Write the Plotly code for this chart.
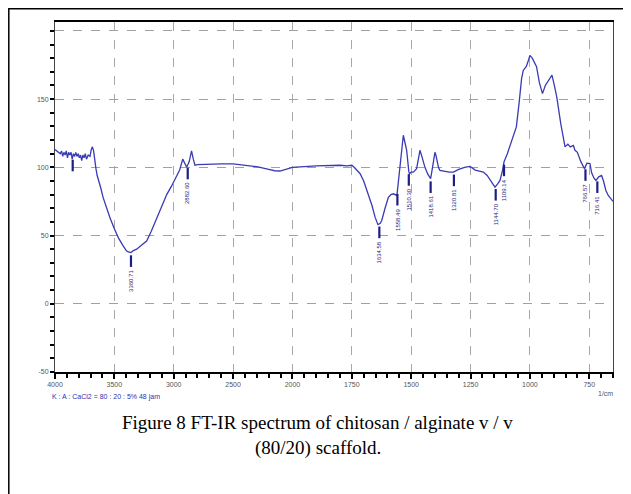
import numpy as np
import plotly.graph_objects as go

# ---- spectrum (wavenumber 1/cm, transmittance %) ----
wavenumber = [4000, 3985, 3970, 3955, 3945, 3935, 3925, 3915, 3905, 3895, 3885, 3875, 3865, 3855,
              3845, 3835, 3825, 3815, 3805, 3795, 3785, 3775, 3765, 3755, 3745, 3735, 3720, 3705,
              3695, 3685, 3675, 3665, 3655, 3645, 3630, 3615, 3595, 3565, 3537, 3500, 3467, 3430,
              3400, 3383, 3360, 3340, 3312, 3270, 3228, 3190, 3143, 3100, 3059, 3020, 2975, 2950,
              2924, 2905, 2891, 2870, 2850, 2835, 2821, 2800, 2700, 2600, 2500, 2400, 2300, 2200,
              2150, 2105, 2050, 2000, 1900, 1850, 1800, 1770, 1750, 1740, 1730, 1715, 1700, 1681,
              1665, 1652, 1640, 1630, 1624, 1610, 1596, 1585, 1575, 1560, 1550, 1540, 1533, 1526,
              1519, 1510, 1507, 1500, 1491, 1477, 1470, 1463, 1455, 1442, 1430, 1418, 1410, 1400,
              1396, 1385, 1379, 1360, 1340, 1322, 1300, 1275, 1252, 1230, 1210, 1196, 1180, 1165,
              1147, 1135, 1126, 1115, 1109, 1095, 1080, 1057, 1045, 1035, 1028, 1015, 1005, 1000,
              990, 972, 960, 947, 935, 920, 907, 897, 887, 870, 852, 840, 830, 817, 810, 800, 785,
              770, 760, 747, 740, 730, 722, 710, 698, 690, 680, 670, 650]
transmittance = [113, 112, 111.5, 110, 112, 108, 111, 109, 112, 107, 111, 109, 111, 106,
                 110, 108, 111, 108, 110, 107, 109, 105, 109, 107, 110, 106, 109, 108,
                 113, 115, 112, 104, 99, 94, 90, 85, 78, 70, 63, 55, 48.5, 43,
                 39, 38, 37.5, 39, 40, 43, 46, 53, 63, 72, 80, 86, 93, 98,
                 106, 102, 100, 104, 112, 106, 101.5, 102, 102.5, 102.5, 102.5, 101.5, 100.5, 98.5,
                 97.5, 97.3, 98.5, 100, 101, 101.5, 101.5, 101, 101.5, 100, 98, 95.3, 90, 80.6,
                 72, 63.5, 58, 59, 61, 70, 78, 80, 80.6, 79.4, 95, 110, 123.5, 118,
                 112.5, 97, 95.3, 96.5, 96.5, 99, 105, 112.5, 108, 100, 95, 91.7, 100, 111,
                 109, 100, 97.8, 97, 96.5, 96.5, 98.5, 100, 100.7, 98, 97, 96.5, 94, 90,
                 85.5, 88, 90.4, 98, 104, 110, 118, 129.6, 148, 165, 171, 174, 179, 182,
                 180, 173.7, 162, 154, 160, 164, 167.6, 160, 151.7, 132, 115, 117, 115, 116, 112.5, 111, 104,
                 99, 103, 102.7, 96, 92, 90.4, 93, 94, 90, 83, 79.4, 75]

# ---- peak picks ----
peak_wn = [3851, 3360, 2882, 1634, 1558, 1510, 1418, 1320, 1144, 1109, 766, 716]
peak_labels = ["", "3360.71", "2882.60", "1634.58", "1558.49", "1510.30", "1418.61",
               "1320.81", "1144.70", "1109.14", "766.57", "716.41"]

# ---- axis ticks ----
x_tick_wn = [4000, 3500, 3000, 2500, 2000, 1750, 1500, 1250, 1000, 750]
y_tick_vals = [-50, 0, 50, 100, 150, 200]
y_tick_text = ["-50", "0", "50", "100", "150", ""]


def wn_to_u(w):
    """Shimadzu-style split scale: 4000-2000 at half scale, below 2000 full scale."""
    w = np.asarray(w, dtype=float)
    return np.where(w >= 2000, (4000 - w) / 500.0, 4 + (2000 - w) / 250.0)


u = wn_to_u(wavenumber)
curve_color = "#3a3ab4"
mark_color = "#1e1e80"

fig = go.Figure()
fig.add_trace(go.Scatter(x=u, y=transmittance, mode="lines",
                         line=dict(color=curve_color, width=1.3), hoverinfo="skip"))

# peak marks: vertical bars just below the curve
order = np.argsort(wavenumber)
curve_at_peaks = np.interp(peak_wn, np.array(wavenumber)[order], np.array(transmittance)[order])
gap, bar_len = 2.0, 8.5
px, py = [], []
for w, c in zip(peak_wn, curve_at_peaks):
    uu = float(wn_to_u(w))
    px += [uu, uu, None]
    py += [c - gap, c - gap - bar_len, None]
fig.add_trace(go.Scatter(x=px, y=py, mode="lines", line=dict(color=mark_color, width=2.2),
                         hoverinfo="skip"))

for w, c, lab in zip(peak_wn, curve_at_peaks, peak_labels):
    if not lab:
        continue
    fig.add_annotation(x=float(wn_to_u(w)), y=c - gap - bar_len, xref="x", yref="y",
                       text=lab, showarrow=False, textangle=-90, yanchor="top",
                       xanchor="center", yshift=-1,
                       font=dict(family="Liberation Sans, Arial", size=6, color=mark_color))

small_font = dict(family="Liberation Sans, Arial", size=7, color="#555555")

fig.update_xaxes(range=[0, float(wn_to_u(650))], tickmode="array",
                 tickvals=wn_to_u(x_tick_wn).tolist(), ticktext=[str(v) for v in x_tick_wn],
                 showgrid=True, gridcolor="#a8a8a8", griddash="dash", gridwidth=1,
                 showline=True, linecolor="black", linewidth=2, mirror=True,
                 ticks="outside", ticklen=5, tickwidth=1.5, tickcolor="black",
                 minor=dict(tick0=0, dtick=0.2, ticks="outside", ticklen=4, tickwidth=1.5,
                            tickcolor="black", showgrid=False),
                 tickfont=small_font, zeroline=False)
fig.update_yaxes(range=[-50, 206.5], tickmode="array", tickvals=y_tick_vals, ticktext=y_tick_text,
                 showgrid=True, gridcolor="#a0a0a0", griddash="dash", gridwidth=1,
                 showline=True, linecolor="#444444", linewidth=1, mirror=True,
                 ticks="outside", ticklen=4, tickwidth=1.5, tickcolor="black",
                 minor=dict(tick0=0, dtick=10, ticks="outside", ticklen=4, tickwidth=2,
                            tickcolor="black", showgrid=False),
                 tickfont=small_font, zeroline=False)

# outer frame (open at right and bottom, as in the page crop)
fig.add_shape(type="rect", xref="paper", yref="paper", x0=-0.0828, x1=1.08, y0=-0.45, y1=1.038,
              line=dict(color="black", width=1.5), fillcolor="rgba(0,0,0,0)", layer="above")

fig.add_annotation(xref="paper", yref="paper", x=-0.009, y=-0.0714, xanchor="left",
                   yanchor="middle", showarrow=False,
                   text="K : A : CaCl2 = 80 : 20 : 5% 48 jam",
                   font=dict(family="Liberation Sans, Arial", size=7, color="#3030b0"))
fig.add_annotation(xref="paper", yref="paper", x=0.9857, y=-0.06, xanchor="center",
                   yanchor="middle", showarrow=False, text="1/cm", font=small_font)

cap_font = dict(family="Liberation Serif, Times New Roman", size=19, color="black")
fig.add_annotation(xref="paper", yref="paper", x=0.4713, y=-0.143, xanchor="center",
                   yanchor="middle", showarrow=False,
                   text="Figure 8 FT-IR spectrum of chitosan / alginate v / v", font=cap_font)
fig.add_annotation(xref="paper", yref="paper", x=0.4713, y=-0.217, xanchor="center",
                   yanchor="middle", showarrow=False, text="(80/20) scaffold.", font=cap_font)

# the page body adds an 8 px offset, so margins are reduced by 8 px on left/top
fig.update_layout(width=631, height=494, showlegend=False,
                  margin=dict(l=47, r=26, t=14, b=130),
                  paper_bgcolor="white", plot_bgcolor="white")

fig.write_html("out.html")
